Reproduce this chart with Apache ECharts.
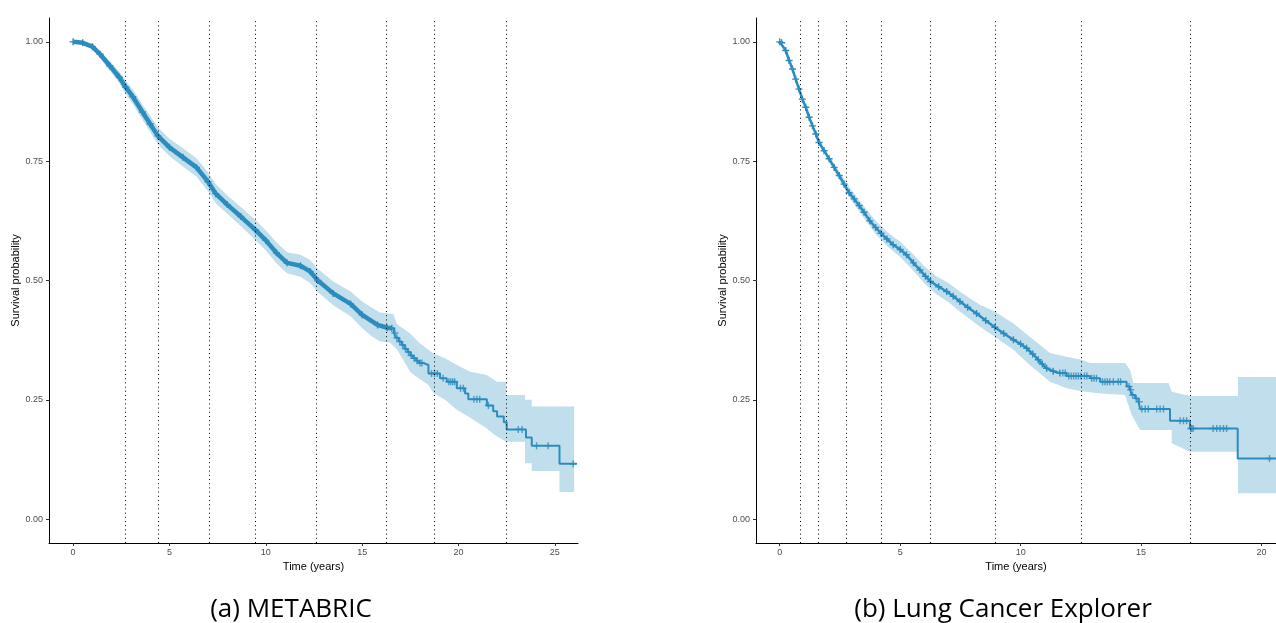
<!DOCTYPE html>
<html>
<head>
<meta charset="utf-8">
<script src="https://cdn.jsdelivr.net/npm/echarts@6/dist/echarts.min.js"></script>
<style>
html,body{margin:0;padding:0;background:#fff;}
#chart{width:1276px;height:623px;}
</style>
</head>
<body>
<div id="chart"></div>
<script>
// ---------- shared ticks ----------
const yTicks = [0, 0.25, 0.5, 0.75, 1.0];
const metaXTicks = [0, 5, 10, 15, 20, 25];
const lungXTicks = [0, 5, 10, 15, 20];

// ---------- (a) METABRIC ----------
const metaDenseT = [0,0.5,1.0,1.4,1.9,2.4,2.73,3.1,3.6,4.0,4.4,5.0,5.7,6.4,7.0,7.4,8.0,8.7,9.46,10.0,10.55,11.1,11.8,12.3,12.7,13.5,14.4,15.0,15.8,16.3,16.54];
const metaDenseS = [1.000,0.998,0.990,0.974,0.950,0.926,0.905,0.885,0.853,0.828,0.803,0.779,0.758,0.737,0.707,0.682,0.659,0.634,0.606,0.584,0.558,0.537,0.531,0.519,0.500,0.473,0.451,0.428,0.407,0.401,0.400];
const metaStepT = [16.54,16.65,16.75,16.9,17.05,17.2,17.35,17.5,17.65,17.8,17.95,18.18,18.44,19.04,19.39,19.91,20.34,20.51,21.47,21.8,22.0,22.35,22.5,23.5,23.8,25.24,26.14];
const metaStepS = [0.400,0.390,0.380,0.372,0.365,0.357,0.350,0.343,0.337,0.332,0.327,0.323,0.305,0.295,0.288,0.274,0.263,0.251,0.238,0.226,0.215,0.203,0.188,0.171,0.154,0.116,0.116];
const metaCensT = [16.7,16.8,16.95,17.1,17.25,17.4,17.55,17.7,17.85,18.0,18.1,18.6,18.75,18.9,19.2,19.5,19.6,19.7,19.8,20.1,20.25,20.8,20.95,21.1,21.55,23.1,23.3,24.05,24.65,25.95];
const metaCensS = [0.390,0.380,0.372,0.365,0.357,0.350,0.343,0.337,0.332,0.327,0.327,0.305,0.305,0.305,0.295,0.288,0.288,0.288,0.288,0.274,0.274,0.251,0.251,0.251,0.238,0.188,0.188,0.154,0.154,0.116];
const metaUpT = [0,0.5,1.0,1.4,1.9,2.4,2.73,3.1,3.6,4.0,4.4,5.0,5.7,6.4,7.0,7.4,8.0,8.7,9.46,10.0,10.55,11.1,11.8,12.3,12.7,13.5,14.4,15.0,15.5,15.93,16.62,16.8,17.49,18.0,18.7,19.3,19.91,20.6,21.47,21.98,22.47,22.47,23.45,23.45,23.8,23.8,26.0];
const metaUpS = [1.0,1.0,0.995,0.981,0.960,0.938,0.919,0.900,0.869,0.845,0.821,0.797,0.777,0.756,0.727,0.702,0.678,0.654,0.627,0.605,0.580,0.559,0.554,0.543,0.524,0.498,0.477,0.456,0.443,0.433,0.430,0.409,0.389,0.368,0.347,0.337,0.323,0.309,0.302,0.288,0.288,0.260,0.260,0.250,0.250,0.236,0.236];
const metaLoT = [0,0.5,1.0,1.4,1.9,2.4,2.73,3.1,3.6,4.0,4.4,5.0,5.7,6.4,7.0,7.4,8.0,8.7,9.46,10.0,10.55,11.1,11.8,12.3,12.7,13.5,14.4,15.0,15.5,15.93,16.45,16.8,17.49,17.83,18.44,18.7,19.3,19.91,20.51,21.47,21.9,22.47,23.45,23.45,23.8,23.8,25.24,25.24,26.0];
const metaLoS = [1.0,0.996,0.985,0.967,0.940,0.914,0.891,0.870,0.837,0.811,0.785,0.761,0.739,0.718,0.687,0.662,0.640,0.614,0.585,0.563,0.536,0.515,0.508,0.495,0.476,0.448,0.425,0.400,0.383,0.372,0.370,0.356,0.309,0.298,0.281,0.264,0.250,0.229,0.215,0.190,0.176,0.162,0.162,0.117,0.117,0.101,0.101,0.057,0.057];
const metaCuts = [2.73,4.41,7.06,9.46,12.61,16.26,18.72,22.49];

// ---------- (b) Lung Cancer Explorer ----------
const lungDenseT = [0,0.08,0.25,0.39,0.53,0.66,0.80,0.94,1.08,1.22,1.36,1.50,1.63,1.84,2.05,2.26,2.47,2.67,2.88,3.09,3.30,3.50,3.74,3.98,4.20,4.45,4.71,5.00,5.26,5.55,5.82,6.05,6.26,6.60,6.93,7.20,7.48,7.80,8.17,8.55,8.93,9.30,9.70,10.00,10.25,10.50,10.73,10.90,11.08,11.35,11.63];
const lungDenseS = [1.000,0.998,0.982,0.961,0.943,0.922,0.901,0.880,0.863,0.842,0.824,0.807,0.789,0.772,0.755,0.737,0.720,0.702,0.684,0.671,0.657,0.643,0.625,0.611,0.599,0.587,0.575,0.565,0.554,0.537,0.522,0.509,0.498,0.487,0.477,0.467,0.456,0.444,0.431,0.416,0.402,0.389,0.376,0.367,0.358,0.346,0.334,0.325,0.316,0.310,0.306];
const lungStepT = [11.63,11.91,12.88,13.3,14.4,14.54,14.61,14.75,14.89,14.96,16.2,17.03,19.01,20.6];
const lungStepS = [0.306,0.300,0.295,0.288,0.278,0.271,0.260,0.253,0.246,0.231,0.206,0.190,0.127,0.127];
const lungCensT = [11.75,11.85,12.0,12.1,12.2,12.3,12.4,12.5,12.65,12.75,12.95,13.05,13.15,13.4,13.5,13.6,13.7,13.85,14.05,14.15,14.5,14.57,14.65,14.8,14.92,15.03,15.17,15.3,15.65,15.79,15.93,16.62,16.76,16.89,17.06,17.1,17.16,17.99,18.14,18.28,18.42,18.55,20.33];
const lungCensS = [0.306,0.306,0.300,0.300,0.300,0.300,0.300,0.300,0.300,0.300,0.295,0.295,0.295,0.288,0.288,0.288,0.288,0.288,0.288,0.288,0.278,0.271,0.260,0.253,0.246,0.231,0.231,0.231,0.231,0.231,0.231,0.206,0.206,0.206,0.190,0.190,0.190,0.190,0.190,0.190,0.190,0.190,0.127];
const lungUpT = [0,0.5,1.0,1.5,2.0,2.5,3.0,3.5,4.0,4.5,5.0,5.5,6.0,6.5,7.0,7.5,8.0,8.31,8.93,9.7,10.38,11.22,11.91,12.53,12.88,13.22,14.33,14.54,14.68,16.14,16.27,17.03,19.02,19.02,20.6];
const lungUpS = [1.0,0.951,0.878,0.812,0.765,0.726,0.688,0.655,0.624,0.600,0.581,0.557,0.530,0.509,0.495,0.476,0.459,0.449,0.435,0.410,0.382,0.348,0.340,0.334,0.327,0.327,0.327,0.313,0.285,0.285,0.267,0.258,0.258,0.298,0.298];
const lungLoT = [0,0.5,1.0,1.5,2.0,2.5,3.0,3.5,4.0,4.5,5.0,5.5,6.0,6.5,7.0,7.5,8.0,8.31,8.93,9.7,10.38,11.22,11.91,12.53,13.22,14.33,14.61,14.96,16.27,16.27,17.03,19.02,19.02,20.6];
const lungLoS = [1.0,0.943,0.868,0.802,0.753,0.708,0.666,0.631,0.596,0.570,0.549,0.523,0.494,0.471,0.455,0.434,0.415,0.403,0.382,0.355,0.323,0.288,0.274,0.268,0.264,0.260,0.218,0.187,0.187,0.159,0.141,0.141,0.054,0.054];
const lungCuts = [0.86,1.61,2.77,4.20,6.26,8.93,12.52,17.02];

// ---------- styling ----------
const LINE = '#2b8cbe';
const BAND = '#c0deec';
const PLUS = 'path://M4,0h2v10h-2z M0,4h10v2h-10z';
const AXFONT = '"Liberation Sans", Arial, sans-serif';

const zip = (a, b) => a.map((v, i) => [v, b[i]]);

function bandSeries(idx, upT, upS, loT, loS) {
  const up = zip(upT, upS);
  const lo = zip(loT, loS).reverse();
  const poly = up.concat(lo);
  return {
    type: 'custom', coordinateSystem: 'cartesian2d',
    xAxisIndex: idx, yAxisIndex: idx, silent: true, z: 1,
    data: [[0, 0]],
    renderItem: (params, api) => ({
      type: 'polygon',
      shape: { points: poly.map(p => api.coord(p)) },
      style: { fill: BAND }
    })
  };
}

function curveSeries(idx, denseT, denseS, denseW, stepT, stepS, censT, censS, cuts) {
  return [
    {
      type: 'line', xAxisIndex: idx, yAxisIndex: idx, z: 3,
      data: zip(denseT, denseS),
      showSymbol: true, symbol: PLUS, symbolSize: 7,
      itemStyle: { color: LINE },
      lineStyle: { color: LINE, width: denseW },
      silent: true
    },
    {
      type: 'line', xAxisIndex: idx, yAxisIndex: idx, z: 3,
      data: zip(stepT, stepS), step: 'end',
      showSymbol: false,
      lineStyle: { color: LINE, width: 2 },
      silent: true,
      markLine: {
        silent: true, symbol: ['none', 'none'], label: { show: false },
        lineStyle: { type: [1, 3.2], color: '#000', width: 1 },
        emphasis: { disabled: true },
        data: cuts.map(t => ({ xAxis: t }))
      }
    },
    {
      type: 'scatter', xAxisIndex: idx, yAxisIndex: idx, z: 4,
      data: zip(censT, censS),
      symbol: PLUS, symbolSize: 7,
      itemStyle: { color: LINE },
      silent: true
    }
  ];
}

function xAxis(idx, min, max, ticks) {
  return {
    type: 'value', gridIndex: idx, min: min, max: max,
    axisLine: { show: true, onZero: false, lineStyle: { color: '#000', width: 1 } },
    axisTick: { show: true, length: 3, customValues: ticks, lineStyle: { color: '#333' } },
    axisLabel: { customValues: ticks, color: '#4d4d4d', fontSize: 9, fontFamily: AXFONT, margin: 5 },
    splitLine: { show: false },
    name: 'Time (years)', nameLocation: 'middle', nameGap: 14,
    nameTextStyle: { color: '#000', fontSize: 11, fontFamily: AXFONT }
  };
}
function yAxis(idx) {
  return {
    type: 'value', gridIndex: idx, min: -0.05, max: 1.05,
    axisLine: { show: true, onZero: false, lineStyle: { color: '#000', width: 1 } },
    axisTick: { show: true, length: 3, customValues: yTicks, lineStyle: { color: '#333' } },
    axisLabel: { customValues: yTicks, color: '#4d4d4d', fontSize: 9, fontFamily: AXFONT, margin: 6,
      formatter: v => v.toFixed(2) },
    splitLine: { show: false },
    name: 'Survival probability', nameLocation: 'middle', nameGap: 25,
    nameTextStyle: { color: '#000', fontSize: 11, fontFamily: AXFONT }
  };
}

const chart = echarts.init(document.getElementById('chart'), null, { renderer: 'canvas' });
chart.setOption({
  animation: false,
  backgroundColor: '#fff',
  grid: [
    { left: 49, top: 18, width: 529, height: 525 },
    { left: 756, top: 18, width: 520, height: 525 }
  ],
  xAxis: [xAxis(0, -1.25, 26.2, metaXTicks), xAxis(1, -0.985, 20.6, lungXTicks)],
  yAxis: [yAxis(0), yAxis(1)],
  graphic: [
    { type: 'text', x: 291, y: 610, style: { text: '(a) METABRIC', font: '26px "Open Sans"', fill: '#000', textAlign: 'center', textVerticalAlign: 'middle' } },
    { type: 'text', x: 1003, y: 610, style: { text: '(b) Lung Cancer Explorer', font: '26px "Open Sans"', fill: '#000', textAlign: 'center', textVerticalAlign: 'middle' } }
  ],
  series: [
    bandSeries(0, metaUpT, metaUpS, metaLoT, metaLoS),
    ...curveSeries(0, metaDenseT, metaDenseS, 4.5, metaStepT, metaStepS, metaCensT, metaCensS, metaCuts),
    bandSeries(1, lungUpT, lungUpS, lungLoT, lungLoS),
    ...curveSeries(1, lungDenseT, lungDenseS, 2.5, lungStepT, lungStepS, lungCensT, lungCensS, lungCuts)
  ]
});
</script>
</body>
</html>
